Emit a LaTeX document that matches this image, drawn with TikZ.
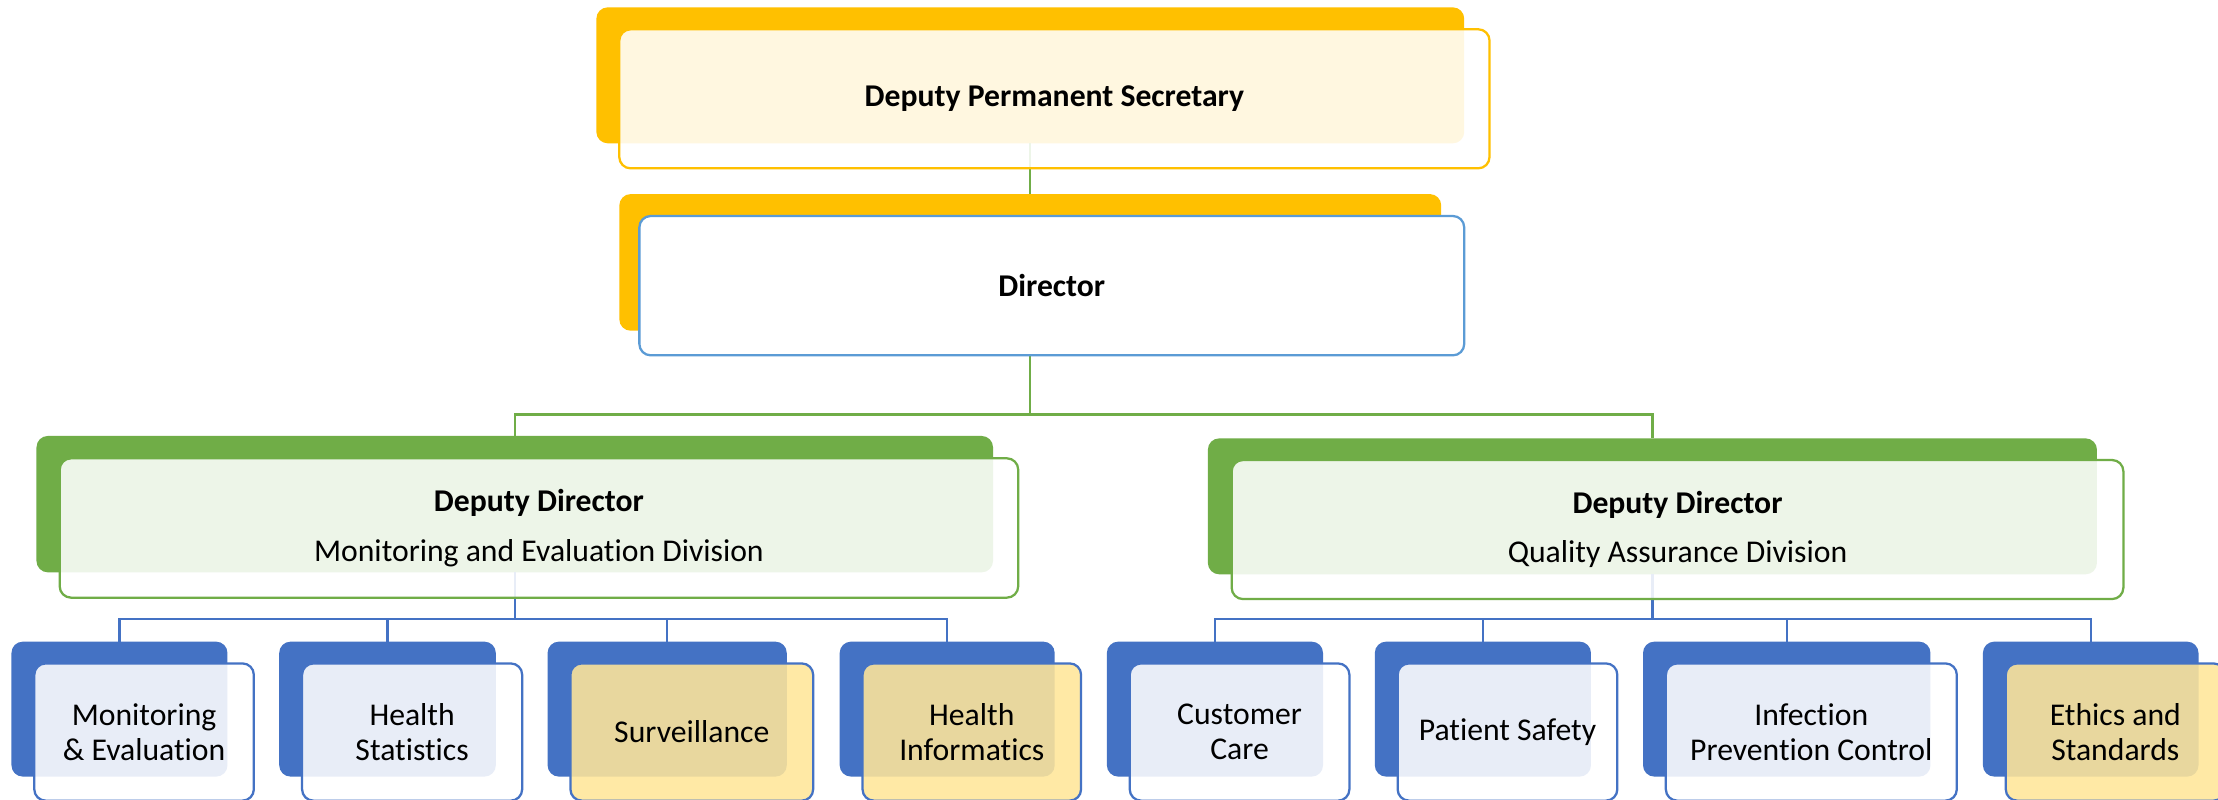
\documentclass[tikz,border=0pt]{standalone}
\usepackage{fontspec}
\setmainfont{Carlito}[Ligatures=NoCommon]
\definecolor{gold}{HTML}{FFC000}
\definecolor{grn}{HTML}{70AD47}
\definecolor{blu}{HTML}{4472C4}
\definecolor{lblu}{HTML}{5B9BD5}
\definecolor{ylw}{HTML}{FFE699}
\tikzset{
  backbox/.style={rectangle, rounded corners=8pt, inner sep=0pt, outer sep=0pt, fill=#1},
  frontbox/.style={rectangle, rounded corners=8pt, inner sep=0pt, outer sep=0pt,
    draw=#1, line width=1.6pt, fill=white, fill opacity=0.88, text opacity=1,
    align=center, font={\fontsize{22.4}{24.5}\selectfont}},
  conn/.style={line width=1.6pt, draw=#1},
  kid/.style={minimum width=#1, minimum height=95.4pt},
  kidf/.style={minimum width=#1, minimum height=97pt},
}
\begin{document}
\begin{tikzpicture}[x=1pt,y=-1pt]
\clip (0,0) rectangle (1568,565);
\fill[white] (0,0) rectangle (1568,565);
% back boxes
\node[backbox=gold, minimum width=613.5pt, minimum height=96.1pt] (dpsB) at (728.35,53.25) {};
\node[backbox=gold, minimum width=581pt, minimum height=96.6pt] (dirB) at (728.35,185.5) {};
\node[backbox=grn, minimum width=676.2pt, minimum height=96.4pt] (ddlB) at (363.9,356.4) {};
\node[backbox=grn, minimum width=628.5pt, minimum height=96.1pt] (ddrB) at (1168.15,357.95) {};
\node[backbox=blu, kid=152.7pt] (c1B) at (84.45,501.3) {};
\node[backbox=blu, kid=153.1pt] (c2B) at (273.95,501.3) {};
\node[backbox=blu, kid=169.1pt] (c3B) at (471.65,501.3) {};
\node[backbox=blu, kid=152pt] (c4B) at (669.6,501.3) {};
\node[backbox=blu, kid=152.8pt] (c5B) at (858.9,501.3) {};
\node[backbox=blu, kid=152.8pt] (c6B) at (1048.3,501.3) {};
\node[backbox=blu, kid=203.2pt] (c7B) at (1263.1,501.3) {};
\node[backbox=blu, kid=152.4pt] (c8B) at (1478,501.3) {};
% junctions
\coordinate (j0) at (728.35,293);
\coordinate (jl) at (363.9,437.6);
\coordinate (jr) at (1168.15,437.6);
% connectors
\draw[conn=grn] (dpsB.south) -- (dirB.north);
\draw[conn=grn] (dirB.south) -- (j0);
\draw[conn=grn] (j0) -| (ddlB.north);
\draw[conn=grn] (j0) -| (ddrB.north);
\draw[conn=blu] (ddlB.south) -- (jl);
\draw[conn=blu] (jl) -| (c1B.north);
\draw[conn=blu] (jl) -| (c2B.north);
\draw[conn=blu] (jl) -| (c3B.north);
\draw[conn=blu] (jl) -| (c4B.north);
\draw[conn=blu] (ddrB.south) -- (jr);
\draw[conn=blu] (jr) -| (c5B.north);
\draw[conn=blu] (jr) -| (c6B.north);
\draw[conn=blu] (jr) -| (c7B.north);
\draw[conn=blu] (jr) -| (c8B.north);
% front boxes
\node[frontbox=gold, minimum width=615.2pt, minimum height=98.3pt] (dps) at (745.4,69.85) {\textbf{Deputy Permanent Secretary}};
\node[frontbox=lblu, fill opacity=1, minimum width=583.1pt, minimum height=98.5pt] (dir) at (743.55,201.95) {\textbf{Director}};
\node[frontbox=grn, minimum width=677.6pt, minimum height=98.5pt] (ddl) at (381,373.25) {\textbf{Deputy Director}\\[10.4pt]Monitoring and Evaluation Division};
\node[frontbox=grn, minimum width=630.4pt, minimum height=98.3pt] (ddr) at (1185.9,374.35) {\textbf{Deputy Director}\\[10.4pt]Quality Assurance Division};
\node[frontbox=blu, kidf=155.2pt] (c1) at (101.85,517.5) {Monitoring\\\& Evaluation};
\node[frontbox=blu, kidf=155.6pt] (c2) at (291.35,517.5) {Health\\Statistics};
\node[frontbox=blu, fill=ylw, kidf=171.6pt] (c3) at (489.05,517.5) {Surveillance};
\node[frontbox=blu, fill=ylw, kidf=154.5pt] (c4) at (687,517.5) {Health\\Informatics};
\node[frontbox=blu, kidf=155.3pt] (c5) at (876.3,517.5) {Customer\\Care};
\node[frontbox=blu, kidf=155.3pt] (c6) at (1065.7,517.5) {Patient Safety};
\node[frontbox=blu, kidf=205.7pt] (c7) at (1280.5,517.5) {Infection\\Prevention Control};
\node[frontbox=blu, fill=ylw, kidf=154.9pt] (c8) at (1495.4,517.5) {Ethics and\\Standards};
\end{tikzpicture}
\end{document}
